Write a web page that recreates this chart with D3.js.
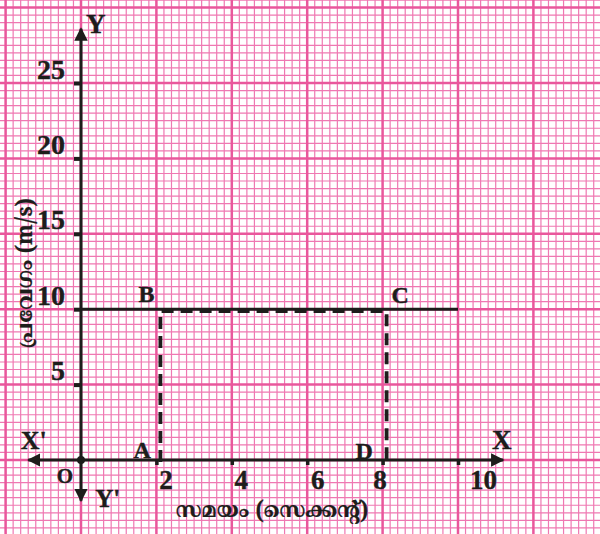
<!DOCTYPE html>
<html>
<head>
<meta charset="utf-8">
<script src="https://cdn.jsdelivr.net/npm/d3@7"></script>
<style>
  body { margin: 0; background: #fff; }
  text { font-family: "Liberation Serif", "Times New Roman", serif; font-weight: bold; fill: #1d1d1b; stroke: #1d1d1b; stroke-width: 0.4px; }
  .ml { font-family: "Noto Serif Malayalam", "Noto Sans Malayalam", "Liberation Serif", serif; stroke-width: 0.2px; }
</style>
</head>
<body>
<div id="chart-area"></div>
<script>
// data
const timeTicks = [2, 4, 6, 8, 10]
const velocityTicks = [5, 10, 15, 20, 25]
const velocityLine = [{ t: 0, v: 10 }, { t: 10, v: 10 }]     // B ... C
const areaBox = [{ t: 2, v: 0 }, { t: 2, v: 10 }, { t: 8, v: 10 }, { t: 8, v: 0 }]  // A B .. C D
const pointLabels = [
    { name: "B", t: 2, v: 10 },
    { name: "C", t: 8, v: 10 },
    { name: "A", t: 2, v: 0 },
    { name: "D", t: 8, v: 0 }
]
const xLabelText = "സമയം (സെക്കന്റ്)"
const yLabelText = "പ്രവേഗം (m/s)"

const WIDTH = 600, HEIGHT = 534

const svg = d3.select("#chart-area").append("svg")
    .attr("width", WIDTH)
    .attr("height", HEIGHT)

// scales
const x = d3.scaleLinear().domain([0, 10]).range([81, 458])
const y = d3.scaleLinear().domain([0, 25]).range([460, 83])

// graph paper
const grid = svg.append("g")
const xMinor = d3.range(Math.ceil(x.invert(0) / 0.2), Math.floor(x.invert(WIDTH) / 0.2) + 1).map(i => i * 0.2)
const yMinor = d3.range(Math.ceil(y.invert(HEIGHT) / 0.5), Math.floor(y.invert(0) / 0.5) + 1).map(i => i * 0.5)
const isMajorX = d => Math.abs(d / 2 - Math.round(d / 2)) < 1e-6
const isMajorY = d => Math.abs(d / 5 - Math.round(d / 5)) < 1e-6

grid.selectAll(".vx").data(xMinor.filter(d => !isMajorX(d))).enter().append("line")
    .attr("x1", d => x(d)).attr("x2", d => x(d))
    .attr("y1", 0).attr("y2", HEIGHT)
    .attr("stroke", "#ef78b2").attr("stroke-width", 1.2)
grid.selectAll(".hy").data(yMinor.filter(d => !isMajorY(d))).enter().append("line")
    .attr("y1", d => y(d)).attr("y2", d => y(d))
    .attr("x1", 0).attr("x2", WIDTH)
    .attr("stroke", "#ef78b2").attr("stroke-width", 1.2)
grid.selectAll(".vxm").data(xMinor.filter(isMajorX)).enter().append("line")
    .attr("x1", d => x(d)).attr("x2", d => x(d))
    .attr("y1", 0).attr("y2", HEIGHT)
    .attr("stroke", "#e9579c").attr("stroke-width", 2.5)
grid.selectAll(".hym").data(yMinor.filter(isMajorY)).enter().append("line")
    .attr("y1", d => y(d)).attr("y2", d => y(d))
    .attr("x1", 0).attr("x2", WIDTH)
    .attr("stroke", "#e9579c").attr("stroke-width", 2.5)

// axis lines with arrows
svg.append("defs").append("marker")
    .attr("id", "arrow")
    .attr("viewBox", "0 0 10 10")
    .attr("refX", 9).attr("refY", 5)
    .attr("markerWidth", 4.5).attr("markerHeight", 4.5)
    .attr("markerUnits", "strokeWidth")
    .attr("orient", "auto")
    .append("path").attr("d", "M0,0 L10,5 L0,10 Z").attr("fill", "#1d1d1b")

const axisLine = (x1, y1, x2, y2) => svg.append("line")
    .attr("x1", x1).attr("y1", y1).attr("x2", x2).attr("y2", y2)
    .attr("stroke", "#1d1d1b").attr("stroke-width", 3)
    .attr("marker-end", "url(#arrow)")
axisLine(x(0), y(0), x(11.2), y(0))
axisLine(x(0), y(0), x(-1.4), y(0))
axisLine(x(0), y(0), x(0), y(28.6))
axisLine(x(0), y(0), x(0), y(-2.7))

// axes
const xLabelShift = { 2: 9, 4: 9, 6: 10, 8: -3, 10: 25 }
const xAxis = svg.append("g")
    .attr("transform", `translate(0, ${y(0)})`)
    .call(d3.axisBottom(x).tickValues(timeTicks).tickSizeInner(5).tickSizeOuter(0).tickPadding(10))
xAxis.select(".domain").remove()
xAxis.selectAll(".tick line").attr("stroke", "#1d1d1b").attr("stroke-width", 3.5)
xAxis.selectAll(".tick text")
    .attr("font-size", "27px").attr("font-family", null)
    .attr("fill", "#1d1d1b")
    .attr("dx", d => xLabelShift[d]).attr("dy", 0).attr("y", 29)

const yAxis = svg.append("g")
    .attr("transform", `translate(${x(0)}, 0)`)
    .call(d3.axisLeft(y).tickValues(velocityTicks).tickSizeInner(7).tickSizeOuter(0).tickPadding(9))
yAxis.select(".domain").remove()
yAxis.selectAll(".tick line").attr("stroke", "#1d1d1b").attr("stroke-width", 4)
yAxis.selectAll(".tick text")
    .attr("font-size", "28px").attr("font-family", null)
    .attr("fill", "#1d1d1b")
    .attr("dy", 0).attr("y", -5)

// velocity line
const line = d3.line().x(d => x(d.t)).y(d => y(d.v))
svg.append("path")
    .attr("d", line(velocityLine))
    .attr("fill", "none")
    .attr("stroke", "#1d1d1b")
    .attr("stroke-width", 3)

// dashed area boundary
svg.append("path")
    .attr("d", line(areaBox))
    .attr("transform", "translate(4, 2)")
    .attr("fill", "none")
    .attr("stroke", "#1d1d1b")
    .attr("stroke-width", 3.8)
    .attr("stroke-dasharray", "12 7")

// origin dot
svg.append("circle")
    .attr("cx", x(0)).attr("cy", y(0)).attr("r", 4)
    .attr("fill", "#1d1d1b")

// point labels
const labelOffset = { B: [-18, -7], C: [9, -6], A: [-23, -2], D: [-27, -1] }
svg.selectAll(".pt").data(pointLabels).enter().append("text")
    .attr("x", d => x(d.t) + labelOffset[d.name][0])
    .attr("y", d => y(d.v) + labelOffset[d.name][1])
    .attr("font-size", "24px")
    .text(d => d.name)

// axis letters
const letter = (txt, px, py, size) => svg.append("text")
    .attr("x", px).attr("y", py).attr("font-size", size + "px").text(txt)
letter("Y", x(0) + 5, y(28.3), 27)
letter("X", x(10.9), y(0.75), 27)
letter("X'", x(-1.6), y(0.75), 26)
letter("O", x(-0.64), y(-1.53), 21)
letter("Y'", x(0.38), y(-3.1), 25)

// axis titles
svg.append("text")
    .attr("class", "ml")
    .attr("x", 272).attr("y", 517)
    .attr("text-anchor", "middle")
    .attr("font-size", "21px")
    .text(xLabelText)

svg.append("text")
    .attr("class", "ml")
    .attr("transform", "translate(32, 273) rotate(-90)")
    .attr("text-anchor", "middle")
    .attr("font-size", "21px")
    .text(yLabelText)
</script>
</body>
</html>
